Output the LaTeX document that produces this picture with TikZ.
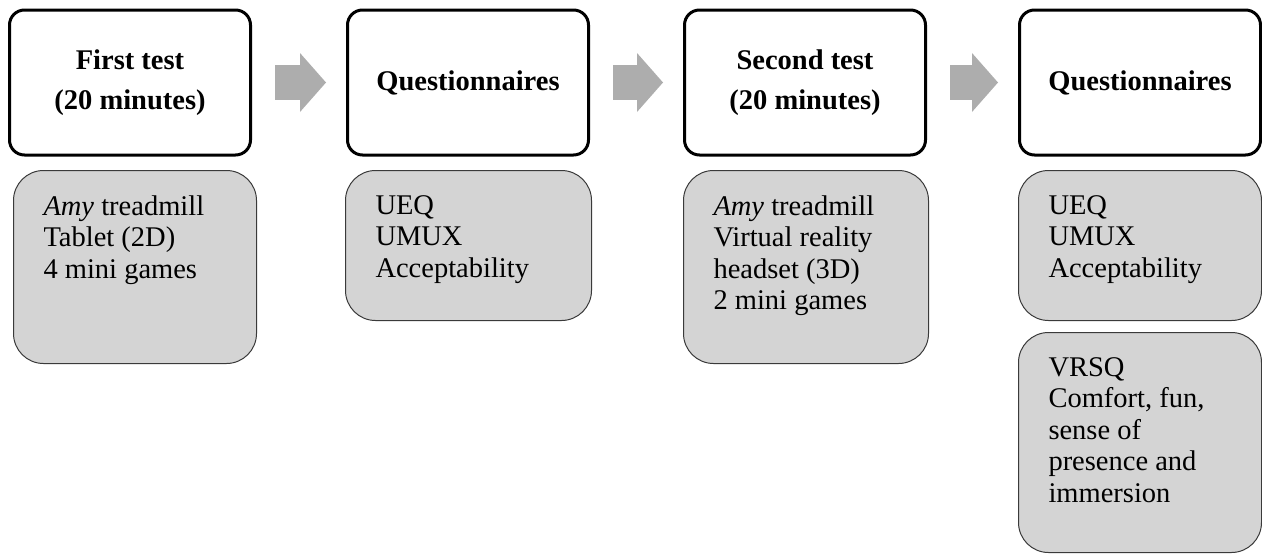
\documentclass[tikz,border=0pt]{standalone}
\usepackage{fontspec}
\setmainfont{Liberation Serif}
\usetikzlibrary{arrows.meta}
\definecolor{boxgrey}{HTML}{D4D4D4}
\definecolor{edgegrey}{HTML}{3A3A3A}
\definecolor{arrowgrey}{HTML}{ADADAD}
\newcommand{\boxtext}[3]{\begin{minipage}[c][#2][t]{#1}\raggedright #3\end{minipage}}
\begin{document}
\begin{tikzpicture}[x=1pt,y=1pt,
  stagebox/.style={draw=black, line width=3pt, rounded corners=15pt, fill=white,
    minimum width=241pt, minimum height=145pt, inner sep=0pt, align=center,
    font=\fontsize{28.5}{40}\selectfont\bfseries},
  greybox/.style={draw=edgegrey, line width=1pt, fill=boxgrey, rounded corners=30pt,
    inner xsep=30pt, inner ysep=25pt, anchor=north west,
    font=\fontsize{28.5}{31.5}\selectfont},
  flowarrow/.style={draw=arrowgrey, line width=35pt,
    -{Triangle[length=26pt,width=59pt,line width=0pt]},
    shorten <=23pt, shorten >=20pt}]
\useasboundingbox (0,0) rectangle (1262,-554);

\node[stagebox] (t1) at (130,-82.5) {First test\\(20 minutes)};
\node[stagebox] (t2) at (468,-82.5) {Questionnaires};
\node[stagebox] (t3) at (805,-82.5) {Second test\\(20 minutes)};
\node[stagebox] (t4) at (1140,-82.5) {Questionnaires};

\draw[flowarrow] (t1) -- (t2);
\draw[flowarrow] (t2) -- (t3);
\draw[flowarrow] (t3) -- (t4);

\node[greybox] (g1) at (13,-170) {\boxtext{183pt}{143pt}{\textit{Amy} treadmill\\Tablet (2D)\\4 mini games}};
\node[greybox] (g2) at (345,-170) {\boxtext{186pt}{100pt}{UEQ\\UMUX\\Acceptability}};
\node[greybox] (g3) at (683,-170) {\boxtext{185pt}{143pt}{\textit{Amy} treadmill\\Virtual reality\\headset (3D)\\2 mini games}};
\node[greybox] (g4a) at (1018,-170) {\boxtext{183pt}{100pt}{UEQ\\UMUX\\Acceptability}};
\node[greybox] (g4b) at (1018,-332) {\boxtext{183pt}{170pt}{VRSQ\\Comfort, fun,\\sense of\\presence and\\immersion}};
\end{tikzpicture}
\end{document}
